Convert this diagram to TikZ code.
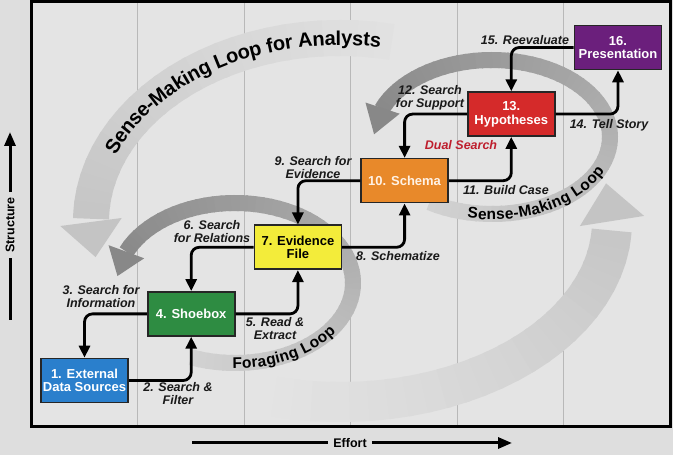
\documentclass[tikz,border=0pt]{standalone}
\usepackage{fontspec}
\setmainfont{Liberation Sans}
\usetikzlibrary{positioning,arrows.meta,decorations.text,calc}

\definecolor{outside}{HTML}{DEDEDE}
\definecolor{panel}{HTML}{E4E4E4}
\definecolor{gridgray}{HTML}{B8B8B8}
\definecolor{bandlight}{HTML}{C4C4C4}
\definecolor{banddark}{HTML}{888888}
\definecolor{srcblue}{HTML}{2A7FCC}
\definecolor{shoegreen}{HTML}{2E8C42}
\definecolor{evidyellow}{HTML}{F3EC3A}
\definecolor{schemaorange}{HTML}{E8892A}
\definecolor{hypred}{HTML}{D52A2A}
\definecolor{prespurple}{HTML}{6B1F7C}
\definecolor{dualred}{HTML}{BE1E2D}

\newcommand{\boxfont}{\bfseries\fontsize{13}{13.5}\selectfont}
\newcommand{\lblfont}{\bfseries\itshape\fontsize{12.5}{13}\selectfont}
\newcommand{\loopfont}{\bfseries\fontsize{15.5}{15.5}\selectfont}
\newcommand{\bigloopfont}{\bfseries\fontsize{20}{20}\selectfont}
\newcommand{\axisfont}{\bfseries\fontsize{12.5}{12.5}\selectfont}

\begin{document}
\begin{tikzpicture}[x=1pt, y=1pt, node distance=66.6pt and 106.7pt, on grid,
    box/.style={draw=black!85, line width=1.6pt, minimum width=87pt,
      minimum height=44pt, inner sep=1pt, align=center, font=\boxfont, text=white},
    conn/.style={line width=2.8pt, rounded corners=8pt,
      -{Triangle[length=12pt,width=11pt]}},
    lbl/.style={font=\lblfont, align=center, inner sep=0pt, text=black!90},
    band/.style={line width=#1, line cap=butt},
    axis/.style={line width=3pt},
    axislbl/.style={font=\axisfont, inner sep=5pt}
  ]
  \useasboundingbox (0,0) rectangle (673,455);
  \fill[outside] (0,0) rectangle (673,455);
  \fill[panel] (31,28) rectangle (670,453);
  \foreach \gx in {137.5,244,350.5,457,563.5}
    \draw[gridgray, line width=1pt] (\gx,28) -- (\gx,453);

  % loop centres
  \coordinate (bigtop) at (340,233);
  \coordinate (bigbot) at (340,234);
  \coordinate (forc) at (235,172);
  \coordinate (sensec) at (492,318);

  % big loop, upper arc
  \foreach \t in {78,82,...,174} {
    \pgfmathtruncatemacro\p{10+(\t-78)/102*90}
    \draw[band=36pt, bandlight!\p!panel] (bigtop) ++(\t:249pt and 184pt)
      arc[start angle=\t, delta angle=5, x radius=249pt, y radius=184pt];
  }
  \path (bigtop) ++(180:249pt and 184pt) coordinate (bigtopb)
        (bigtop) ++(191:249pt and 184pt) coordinate (bigtopa);
  \fill[bandlight] (bigtopa) -- ($(bigtopb)!31pt!90:(bigtopa)$)
    -- ($(bigtopb)!31pt!-90:(bigtopa)$) -- cycle;

  % big loop, lower arc
  \foreach \t in {252,256,...,352} {
    \pgfmathtruncatemacro\p{(\t-252)/108*100}
    \draw[band=40pt, bandlight!\p!panel] (bigbot) ++(\t:272pt and 181pt)
      arc[start angle=\t, delta angle=5, x radius=272pt, y radius=181pt];
  }
  \path (bigbot) ++(0:272pt and 181pt) coordinate (bigbotb)
        (bigbot) ++(12:272pt and 181pt) coordinate (bigbota);
  \fill[bandlight] (bigbota) -- ($(bigbotb)!32.5pt!90:(bigbota)$)
    -- ($(bigbotb)!32.5pt!-90:(bigbota)$) -- cycle;

  % foraging loop
  \foreach \t in {248,252,...,512} {
    \pgfmathtruncatemacro\p{20+(\t-248)/269*80}
    \draw[band=16pt, banddark!\p!panel] (forc) ++(\t:118pt and 80pt)
      arc[start angle=\t, delta angle=5, x radius=118pt, y radius=80pt];
  }
  \path (forc) ++(157:118pt and 80pt) coordinate (forb)
        (forc) ++(175:118pt and 80pt) coordinate (fora);
  \fill[banddark] (fora) -- ($(forb)!19pt!90:(fora)$)
    -- ($(forb)!19pt!-90:(fora)$) -- cycle;

  % sense-making loop
  \foreach \t in {238,242,...,514} {
    \pgfmathtruncatemacro\p{20+(\t-238)/280*80}
    \draw[band=16pt, banddark!\p!panel] (sensec) ++(\t:118pt and 77pt)
      arc[start angle=\t, delta angle=5, x radius=118pt, y radius=77pt];
  }
  \path (sensec) ++(158:118pt and 77pt) coordinate (senseb)
        (sensec) ++(178:118pt and 77pt) coordinate (sensea);
  \fill[banddark] (sensea) -- ($(senseb)!18pt!90:(sensea)$)
    -- ($(senseb)!18pt!-90:(sensea)$) -- cycle;

  % loop names
  \path[decorate, decoration={text along path, text align=center, raise=-7pt,
      text={|\bigloopfont|Sense-Making Loop for Analysts}}]
    (bigtop) ++(166:249pt and 184pt)
    arc[start angle=166, end angle=74, x radius=249pt, y radius=184pt];
  \path[decorate, decoration={text along path, text align=center, raise=-5.5pt,
      text={|\loopfont|Foraging Loop}}]
    (forc) ++(258:118pt and 80pt)
    arc[start angle=258, end angle=340, x radius=118pt, y radius=80pt];
  \path[decorate, decoration={text along path, text align=center, raise=-5.5pt,
      text={|\loopfont|Sense-Making Loop}}]
    (sensec) ++(250:118pt and 77pt)
    arc[start angle=250, end angle=348, x radius=118pt, y radius=77pt];

  % steps
  \node[box, fill=srcblue] (ext) at (84.5,74.5) {1. External\\Data Sources};
  \node[box, fill=shoegreen] (shoe) [above right=of ext] {4. Shoebox};
  \node[box, fill=evidyellow, text=black] (evid) [above right=of shoe] {7. Evidence\\File};
  \node[box, fill=schemaorange, text=white!90!orange] (schema) [above right=of evid] {10. Schema};
  \node[box, fill=hypred] (hyp) [above right=of schema] {13.\\Hypotheses};
  \node[box, fill=prespurple] (pres) [above right=of hyp] {16.\\Presentation};

  \draw[conn] (ext.east) -| (shoe.south);
  \draw[conn] (shoe.west) -| (ext.north);
  \draw[conn] (shoe.east) -| (evid.south);
  \draw[conn] (evid.west) -| (shoe.north);
  \draw[conn] (evid.east) -| (schema.south);
  \draw[conn] (schema.west) -| (evid.north);
  \draw[conn] (schema.east) -| (hyp.south);
  \draw[conn] (hyp.west) -| (schema.north);
  \draw[conn] (hyp.east) -| (pres.south);
  \draw[conn] (pres.west) -| (hyp.north);

  \node[lbl] (l2) at (178,61) {2. Search \&\\Filter};
  \node[lbl] (l3) at (101,158) {3. Search for\\Information};
  \node[lbl] (l5) at (275,126) {5. Read \&\\Extract};
  \node[lbl] (l6) at (212,223) {6. Search\\for Relations};
  \node[lbl] (l8) at (398,199) {8. Schematize};
  \node[lbl] (l9) at (313,287) {9. Search for\\Evidence};
  \node[lbl] (l11) at (506,265) {11. Build Case};
  \node[lbl] (l12) at (430,357) {12. Search\\for Support};
  \node[lbl] (l14) at (609,330) {14. Tell Story};
  \node[lbl] (l15) at (525,415) {15. Reevaluate};
  \node[lbl, text=dualred] (dual) at (461,310) {Dual Search};

  \draw[line width=3pt] (31,28) rectangle (670,453);

  % axes
  \node[axislbl, rotate=90] (struct) at (10,230) {Structure};
  \coordinate (sbot) at (10,135);
  \coordinate (stop) at (10,323);
  \draw[axis] (sbot) -- (struct.west);
  \draw[axis, -{Triangle[length=14pt,width=11pt]}] (struct.east) -- (stop);
  \node[axislbl] (effort) at (350,12) {Effort};
  \coordinate (eleft) at (192,12);
  \coordinate (eright) at (512,12);
  \draw[axis] (eleft) -- (effort.west);
  \draw[axis, -{Triangle[length=14pt,width=11pt]}] (effort.east) -- (eright);
\end{tikzpicture}
\end{document}
